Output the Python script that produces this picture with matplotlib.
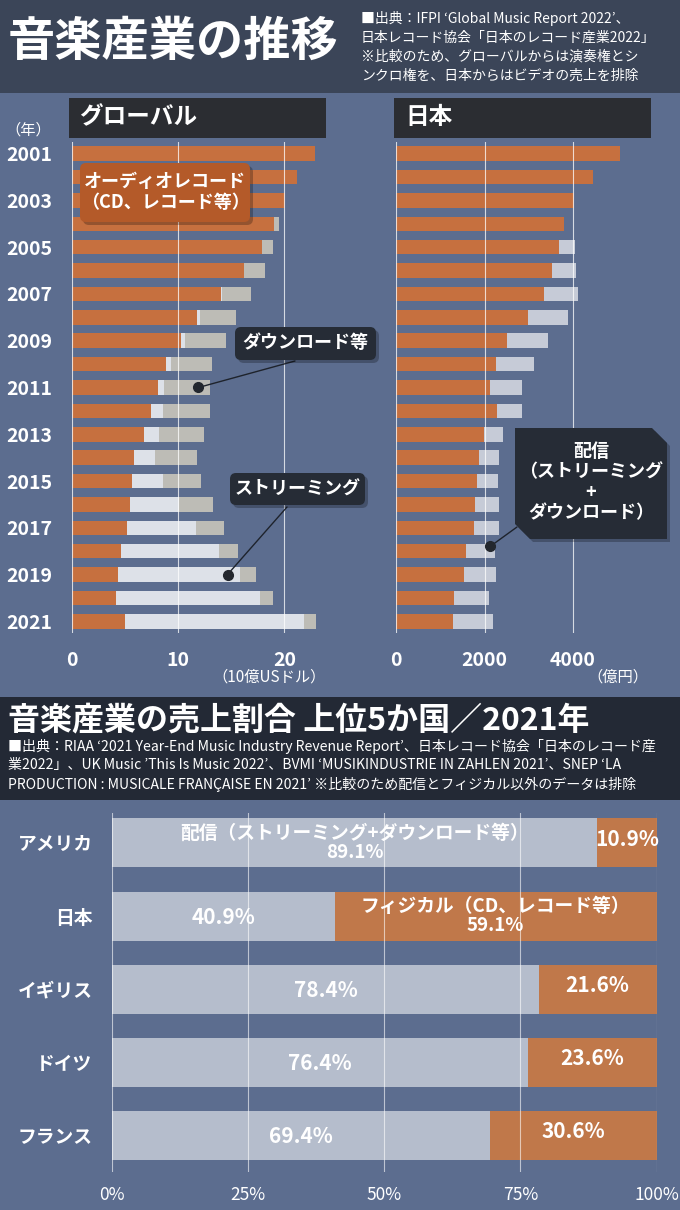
import matplotlib
matplotlib.use('Agg')
import matplotlib.pyplot as plt
from matplotlib.patches import Rectangle, FancyBboxPatch, Polygon
import numpy as np

plt.rcParams['font.family'] = ['Noto Sans CJK JP', 'DejaVu Sans']

# ---------------- data ----------------
years = list(range(2001, 2022))
# Global (billion USD)
global_physical = [22.9, 21.2, 20.1, 19.0, 17.9, 16.2, 14.0, 11.8, 10.3, 8.9, 8.1,
                   7.5, 6.8, 5.9, 5.7, 5.5, 5.2, 4.6, 4.4, 4.2, 5.0]
global_streaming = [0, 0, 0, 0, 0, 0, 0.15, 0.25, 0.4, 0.4, 0.6,
                    1.1, 1.4, 1.9, 2.9, 4.6, 6.5, 9.3, 11.4, 13.5, 16.9]
global_download = [0, 0, 0, 0.5, 1.0, 2.0, 2.7, 3.4, 3.8, 3.9, 4.3,
                   4.4, 4.2, 4.0, 3.6, 3.2, 2.6, 1.7, 1.5, 1.2, 1.1]
# Japan (100 million yen)
japan_physical = [5062, 4445, 4023, 3797, 3684, 3525, 3345, 2983, 2508, 2260, 2124,
                  2282, 1996, 1883, 1831, 1785, 1763, 1582, 1537, 1311, 1288]
japan_digital = [0, 0, 0, 0, 361, 543, 768, 904, 927, 866, 724,
                 566, 422, 445, 474, 543, 565, 655, 723, 791, 904]
global_ticks = [0, 10, 20]
japan_ticks = [0, 2000, 4000]

# Share 2021
countries = ['アメリカ', '日本', 'イギリス', 'ドイツ', 'フランス']
share_digital = [89.1, 40.9, 78.4, 76.4, 69.4]
share_physical = [10.9, 59.1, 21.6, 23.6, 30.6]
share_ticks = [0, 25, 50, 75, 100]
label_digital = '配信（ストリーミング+ダウンロード等）'
label_physical = 'フィジカル（CD、レコード等）'

# ---------------- style ----------------
BG = '#5c6d8f'
ORANGE = '#c6703f'
STREAM = '#dde1e8'
DL = '#bdbcb6'
JP_DIG = '#c6cbd7'
B_ORANGE = '#c0784a'
B_DIG = '#b5bdcc'
DARK = '#262c36'
WHITE = 'white'

W, H = 680, 1210
fig = plt.figure(figsize=(6.8, 12.1), dpi=100)
fig.patch.set_facecolor(BG)


def px_axes(l, t, r, b, z):
    ax = fig.add_axes([l / W, 1 - b / H, (r - l) / W, (b - t) / H], zorder=z)
    ax.set_facecolor('none')
    return ax


bg = px_axes(0, 0, W, H, 0)
bg.set_xlim(0, W); bg.set_ylim(H, 0); bg.axis('off')
bg.add_patch(Rectangle((0, 0), W, 93, color='#3b4558', lw=0))
bg.add_patch(Rectangle((0, 697), W, 103, color='#232935', lw=0))
bg.add_patch(Rectangle((69, 98), 257, 40, color='#2b2d32', lw=0))
bg.add_patch(Rectangle((394, 98), 257, 40, color='#2b2d32', lw=0))
bg.text(79, 117, 'グローバル', color=WHITE, fontsize=17, weight='bold', va='center')
bg.text(405, 117, '日本', color=WHITE, fontsize=17, weight='bold', va='center')

rows = np.arange(len(years))
BAR_H = 0.62


def style_axes(ax, ticks):
    for s in ax.spines.values():
        s.set_visible(False)
    ax.set_xticks(ticks)
    ax.set_xticklabels([str(t) for t in ticks])
    ax.tick_params(axis='x', length=0, pad=13, labelsize=14, labelcolor=WHITE)
    for lab in ax.get_xticklabels():
        lab.set_fontweight('bold')
    for t in ticks:
        ax.axvline(t, color=WHITE, lw=0.8, alpha=0.75, zorder=3)


# Global chart
axg = px_axes(71.7, 142, 326, 633, 2)
gp = np.array(global_physical); gs = np.array(global_streaming); gd = np.array(global_download)
axg.barh(rows, gp, height=BAR_H, color=ORANGE, lw=0)
axg.barh(rows, gs, left=gp, height=BAR_H, color=STREAM, lw=0)
axg.barh(rows, gd, left=gp + gs, height=BAR_H, color=DL, lw=0)
axg.set_xlim(0, (326 - 71.7) / 10.63)
axg.set_ylim(len(years) - 0.5, -0.5)
style_axes(axg, global_ticks)
axg.set_yticks(rows[::2])
axg.set_yticklabels([str(y) for y in years[::2]])
axg.tick_params(axis='y', length=0, pad=14, labelsize=14, labelcolor=WHITE)
for lab in axg.get_yticklabels():
    lab.set_fontweight('bold')

# Japan chart
axj = px_axes(396, 142, 651, 633, 2)
jp = np.array(japan_physical); jd = np.array(japan_digital)
axj.barh(rows, jp, height=BAR_H, color=ORANGE, lw=0)
axj.barh(rows, jd, left=jp, height=BAR_H, color=JP_DIG, lw=0)
axj.set_xlim(0, (651 - 396) / 0.04425)
axj.set_ylim(len(years) - 0.5, -0.5)
style_axes(axj, japan_ticks)
axj.set_yticks([])

# Share chart
axb = px_axes(112, 812.7, 656.5, 1171.7, 2)
crow = np.arange(len(countries))
sd = np.array(share_digital); sp = np.array(share_physical)
axb.barh(crow, sd, height=0.67, color=B_DIG, lw=0)
axb.barh(crow, sp, left=sd, height=0.67, color=B_ORANGE, lw=0)
axb.set_xlim(0, 100)
axb.set_ylim(4.497, -0.414)
for s in axb.spines.values():
    s.set_visible(False)
axb.set_xticks(share_ticks)
axb.set_xticklabels([f'{t}%' for t in share_ticks])
axb.tick_params(axis='x', length=0, pad=10, labelsize=12.5, labelcolor=WHITE)
axb.set_yticks(crow)
axb.set_yticklabels(countries)
axb.tick_params(axis='y', length=0, pad=14, labelsize=13.5, labelcolor=WHITE)
for lab in axb.get_yticklabels():
    lab.set_fontweight('bold')
for t in share_ticks:
    axb.axvline(t, color=WHITE, lw=0.8, alpha=0.6, zorder=3)

i_dig = int(np.argmax(sd)); i_phy = int(np.argmax(sp))
for i in crow:
    cx = sd[i] / 2
    if i == i_dig:
        axb.text(cx, i, f'{label_digital}\n{sd[i]}%', ha='center', va='center',
                 color=WHITE, fontsize=13.5, weight='bold', linespacing=1.0, zorder=5)
    else:
        axb.text(cx, i + 0.02, f'{sd[i]}%', ha='center', va='center',
                 color=WHITE, fontsize=15, weight='bold', zorder=5)
    px_ = sd[i] + sp[i] / 2
    if i == i_phy:
        axb.text(px_, i, f'{label_physical}\n{sp[i]}%', ha='center', va='center',
                 color=WHITE, fontsize=13.5, weight='bold', linespacing=1.0, zorder=5)
    else:
        axb.text(px_, i - 0.05, f'{sp[i]}%', ha='center', va='center',
                 color=WHITE, fontsize=15, weight='bold', zorder=5)

# ---------------- foreground annotations ----------------
fg = px_axes(0, 0, W, H, 5)
fg.set_xlim(0, W); fg.set_ylim(H, 0); fg.axis('off')

fg.text(8, 42, '音楽産業の推移', color=WHITE, fontsize=34, weight='bold', va='center')
src_top = ['■出典：IFPI ‘Global Music Report 2022’、',
           '日本レコード協会「日本のレコード産業2022」',
           '※比較のため、グローバルからは演奏権とシ',
           'ンクロ権を、日本からはビデオの売上を排除']
for k, line in enumerate(src_top):
    fg.text(361, 18 + k * 19.3, line, color=WHITE, fontsize=10, va='center')

fg.text(28, 130, '（年）', color=WHITE, fontsize=11, va='center', ha='center')
fg.text(269, 677, '（10億USドル）', color=WHITE, fontsize=11, va='center', ha='center')
fg.text(618, 677, '（億円）', color=WHITE, fontsize=11, va='center', ha='center')

fg.text(8, 720, '音楽産業の売上割合 上位5か国／2021年', color=WHITE, fontsize=23,
        weight='bold', va='center')
src_bot = ['■出典：RIAA ‘2021 Year-End Music Industry Revenue Report’、日本レコード協会「日本のレコード産',
           '業2022」、UK Music ’This Is Music 2022’、BVMI ‘MUSIKINDUSTRIE IN ZAHLEN 2021’、SNEP ‘LA',
           'PRODUCTION : MUSICALE FRANÇAISE EN 2021’ ※比較のため配信とフィジカル以外のデータは排除']
for k, line in enumerate(src_bot):
    fg.text(8, 747 + k * 18.5, line, color=WHITE, fontsize=10.1, va='center')


def box(x0, y0, x1, y1, fc, shadow=True):
    if shadow:
        fg.add_patch(FancyBboxPatch((x0 + 3, y0 + 3), x1 - x0, y1 - y0,
                                    boxstyle='round,pad=0,rounding_size=6',
                                    fc='black', ec='none', alpha=0.25))
    fg.add_patch(FancyBboxPatch((x0, y0), x1 - x0, y1 - y0,
                                boxstyle='round,pad=0,rounding_size=6',
                                fc=fc, ec='none'))


# Audio record label
box(80, 163, 250, 222, '#b45a29')
fg.text(165, 192, 'オーディオレコード\n（CD、レコード等）', color=WHITE, fontsize=13,
        weight='bold', ha='center', va='center', linespacing=1.1)


def pointer(ax, xd, yd, tx, ty):
    ax.annotate('', xy=(xd, yd), xycoords='data', xytext=(tx, ty),
                textcoords=fg.transData,
                arrowprops=dict(arrowstyle='-', color='#1e232c', lw=1,
                                shrinkA=0, shrinkB=0))
    ax.plot([xd], [yd], 'o', ms=7, color='#23272e', zorder=6)


i11 = years.index(2011)
pointer(axg, gp[i11] + gs[i11] + 0.75 * gd[i11], i11, 295, 361)
i19 = years.index(2019)
pointer(axg, gp[i19] + 0.9 * gs[i19], i19, 287, 507)
i18 = years.index(2018)
pointer(axj, jp[i18] + 0.83 * jd[i18], i18 - 0.2, 517, 527)

box(235, 327, 376, 360, DARK)
fg.text(305.5, 343, 'ダウンロード等', color=WHITE, fontsize=13, weight='bold',
        ha='center', va='center')
box(230, 473, 365, 505, DARK)
fg.text(297.5, 489, 'ストリーミング', color=WHITE, fontsize=13, weight='bold',
        ha='center', va='center')

poly = [(515, 428), (652, 428), (667, 443), (667, 539), (530, 539), (515, 524)]
fg.add_patch(Polygon([(x + 3, y + 3) for x, y in poly], closed=True, fc='black',
                     ec='none', alpha=0.25))
fg.add_patch(Polygon(poly, closed=True, fc=DARK, ec='none'))
fg.text(591, 482, '配信\n（ストリーミング\n+\nダウンロード）', color=WHITE, fontsize=13,
        weight='bold', ha='center', va='center', linespacing=1.1)

fig.savefig('out.png', dpi=100, facecolor=fig.get_facecolor())
